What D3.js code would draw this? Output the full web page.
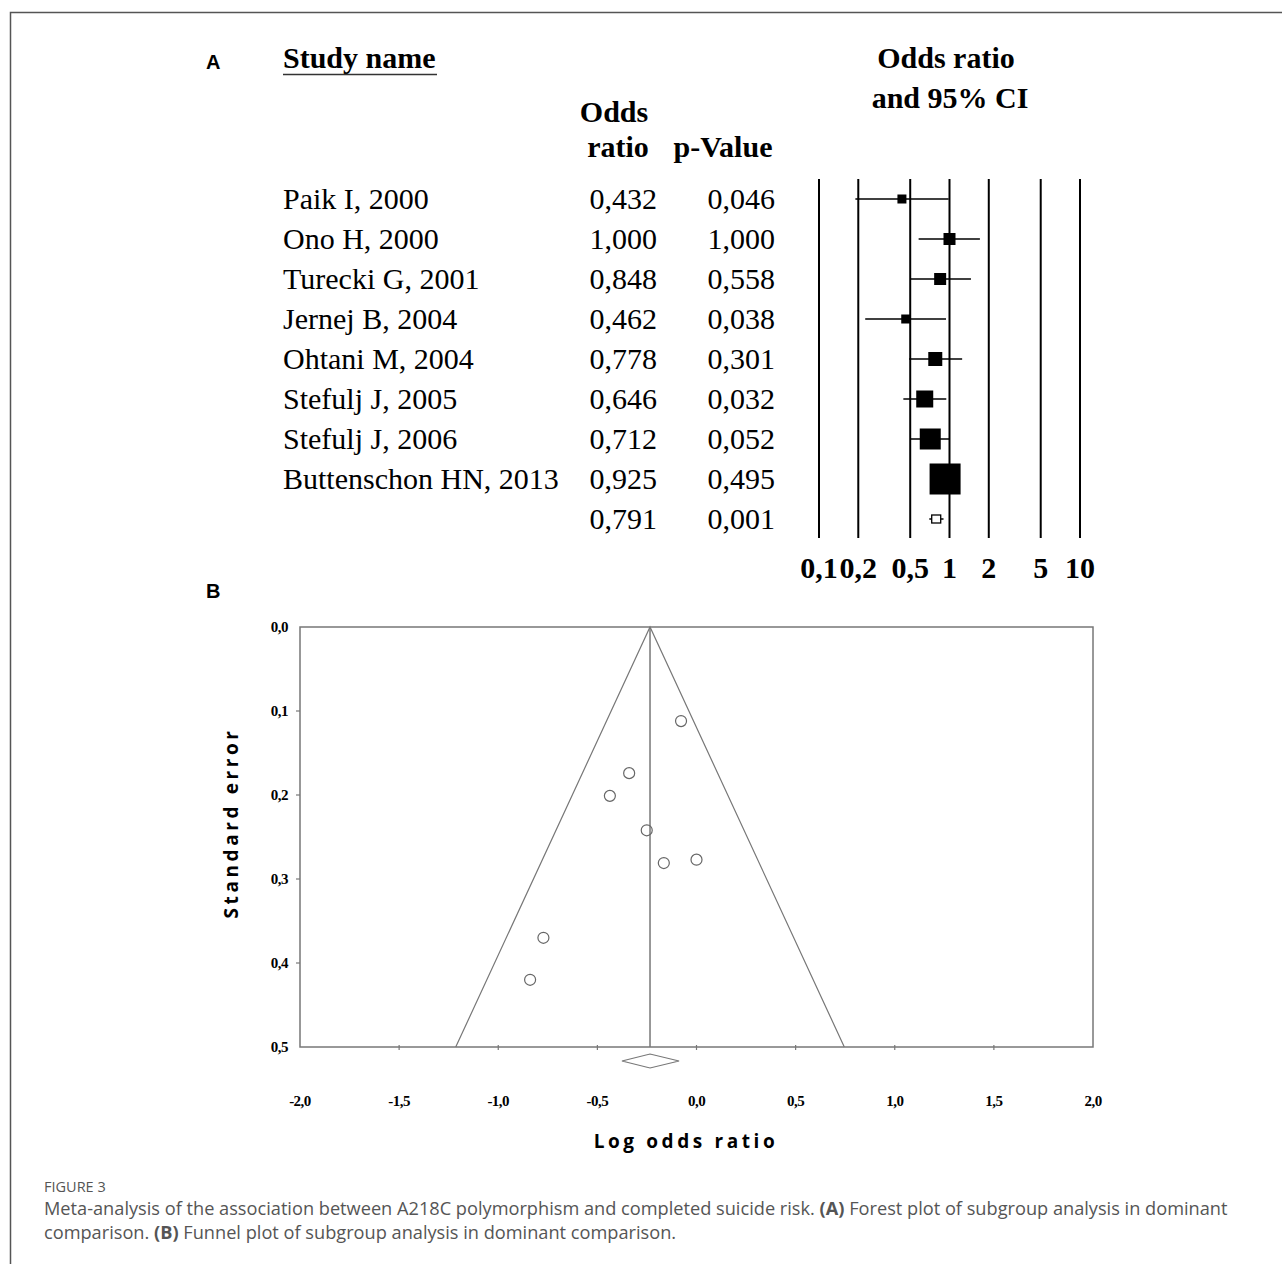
<!DOCTYPE html>
<html><head><meta charset="utf-8">
<script src="https://cdn.jsdelivr.net/npm/d3@7"></script>
<style>body{margin:0;background:#fff}svg{display:block}</style>
</head><body>
<script>
// ---- Forest plot data ----
const studies = ["Paik I, 2000","Ono H, 2000","Turecki G, 2001","Jernej B, 2004","Ohtani M, 2004","Stefulj J, 2005","Stefulj J, 2006","Buttenschon HN, 2013"];
const oddsRatio = [0.432,1.000,0.848,0.462,0.778,0.646,0.712,0.925];
const orLabels = ["0,432","1,000","0,848","0,462","0,778","0,646","0,712","0,925"];
const pLabels = ["0,046","1,000","0,558","0,038","0,301","0,032","0,052","0,495"];
const ciLower = [0.19,0.58,0.50,0.226,0.49,0.443,0.50,0.75];
const ciUpper = [0.985,1.71,1.46,0.94,1.25,0.945,1.0,1.14];
const weights = [9,12,12,9,14,17,21,31];
const summaryOR = 0.791, summaryLower = 0.70, summaryUpper = 0.90;
const summaryORLabel = "0,791", summaryPLabel = "0,001";
const forestTicks = [0.1,0.2,0.5,1,2,5,10];
const forestTickLabels = ["0,1","0,2","0,5","1","2","5","10"];

// ---- Funnel plot data ----
const funnelSE = [0.420,0.277,0.281,0.370,0.242,0.201,0.174,0.112];
const funnelCenter = Math.log(summaryOR);
const diamondLow = -0.376, diamondHigh = -0.088;
const funnelXTicks = [-2,-1.5,-1,-0.5,0,0.5,1,1.5,2];
const funnelXLabels = ["-2,0","-1,5","-1,0","-0,5","0,0","0,5","1,0","1,5","2,0"];
const funnelYTicks = [0,0.1,0.2,0.3,0.4,0.5];
const funnelYLabels = ["0,0","0,1","0,2","0,3","0,4","0,5"];

const W=1282,H=1264;
const svg=d3.select("body").append("svg").attr("width",W).attr("height",H);

// frame
svg.append("path").attr("d","M10.5,1264 V12.5 H1282").attr("fill","none").attr("stroke","#555").attr("stroke-width",1.5);

const serif="'Liberation Serif','Times New Roman',serif";
const sans="'Liberation Sans',Arial,sans-serif";

// Panel labels
svg.append("text").attr("x",206).attr("y",69).text("A").attr("font-family",sans).attr("font-weight","bold").attr("font-size",20);
svg.append("text").attr("x",206).attr("y",598).text("B").attr("font-family",sans).attr("font-weight","bold").attr("font-size",20);

// ---- Forest ----
const xF=d3.scaleLog().domain([0.1,10]).range([819,1080]);
const rows=studies.concat(["summary"]);
const yF=d3.scalePoint().domain(rows).range([199,519]);
const gF=svg.append("g");
const fs=30;
// headers
gF.append("text").attr("x",283).attr("y",68).text("Study name").attr("font-family",serif).attr("font-weight","bold").attr("font-size",fs);
gF.append("line").attr("x1",283).attr("x2",437).attr("y1",74.5).attr("y2",74.5).attr("stroke","#333").attr("stroke-width",1.5);
gF.append("text").attr("x",614).attr("y",122).attr("text-anchor","middle").text("Odds").attr("font-family",serif).attr("font-weight","bold").attr("font-size",fs);
gF.append("text").attr("x",618).attr("y",157).attr("text-anchor","middle").text("ratio").attr("font-family",serif).attr("font-weight","bold").attr("font-size",fs);
gF.append("text").attr("x",723).attr("y",157).attr("text-anchor","middle").text("p-Value").attr("font-family",serif).attr("font-weight","bold").attr("font-size",fs);
gF.append("text").attr("x",946).attr("y",68).attr("text-anchor","middle").text("Odds ratio").attr("font-family",serif).attr("font-weight","bold").attr("font-size",fs);
gF.append("text").attr("x",950).attr("y",108).attr("text-anchor","middle").text("and 95% CI").attr("font-family",serif).attr("font-weight","bold").attr("font-size",fs);

// rows text
studies.forEach((s,i)=>{
  const y=yF(s)+10;
  gF.append("text").attr("x",283).attr("y",y).text(s).attr("font-family",serif).attr("font-size",fs);
  gF.append("text").attr("x",657).attr("y",y).attr("text-anchor","end").text(orLabels[i]).attr("font-family",serif).attr("font-size",fs);
  gF.append("text").attr("x",775).attr("y",y).attr("text-anchor","end").text(pLabels[i]).attr("font-family",serif).attr("font-size",fs);
});
gF.append("text").attr("x",657).attr("y",yF("summary")+10).attr("text-anchor","end").text(summaryORLabel).attr("font-family",serif).attr("font-size",fs);
gF.append("text").attr("x",775).attr("y",yF("summary")+10).attr("text-anchor","end").text(summaryPLabel).attr("font-family",serif).attr("font-size",fs);

// vertical grid lines
gF.selectAll("line.v").data(forestTicks).enter().append("line")
  .attr("x1",d=>xF(d)).attr("x2",d=>xF(d)).attr("y1",179).attr("y2",538)
  .attr("stroke","#000").attr("stroke-width",2);
gF.selectAll("text.t").data(forestTicks).enter().append("text")
  .attr("x",d=>xF(d)).attr("y",578).attr("text-anchor","middle")
  .text((d,i)=>forestTickLabels[i]).attr("font-family",serif).attr("font-weight","bold").attr("font-size",fs);

// CIs and boxes
studies.forEach((s,i)=>{
  const y=yF(s);
  gF.append("line").attr("x1",xF(ciLower[i])).attr("x2",xF(ciUpper[i])).attr("y1",y).attr("y2",y).attr("stroke","#000").attr("stroke-width",1.5);
  const w=weights[i];
  gF.append("rect").attr("x",xF(oddsRatio[i])-w/2).attr("y",y-w/2).attr("width",w).attr("height",w).attr("fill","#000");
});
{
  const y=yF("summary");
  gF.append("line").attr("x1",xF(summaryLower)).attr("x2",xF(summaryUpper)).attr("y1",y).attr("y2",y).attr("stroke","#000").attr("stroke-width",1.5);
  gF.append("rect").attr("x",xF(summaryOR)-4.5).attr("y",y-4).attr("width",9).attr("height",8).attr("fill","#fff").attr("stroke","#000").attr("stroke-width",1.3);
}

// ---- Funnel ----
const xB=d3.scaleLinear().domain([-2,2]).range([300,1093]);
const yB=d3.scaleLinear().domain([0,0.5]).range([627,1047]);
const gB=svg.append("g");
const gray="#777";
gB.append("rect").attr("x",xB(-2)).attr("y",yB(0)).attr("width",xB(2)-xB(-2)).attr("height",yB(0.5)-yB(0))
  .attr("fill","none").attr("stroke",gray).attr("stroke-width",1.5);
// funnel
gB.append("path").attr("d",`M${xB(funnelCenter-1.96*0.5)},${yB(0.5)} L${xB(funnelCenter)},${yB(0)} L${xB(funnelCenter+1.96*0.5)},${yB(0.5)}`)
  .attr("fill","none").attr("stroke",gray).attr("stroke-width",1.2);
gB.append("line").attr("x1",xB(funnelCenter)).attr("x2",xB(funnelCenter)).attr("y1",yB(0)).attr("y2",yB(0.5)).attr("stroke",gray).attr("stroke-width",1.5);
// ticks
gB.selectAll("line.xt").data(funnelXTicks.slice(1,-1)).enter().append("line")
  .attr("x1",d=>xB(d)).attr("x2",d=>xB(d)).attr("y1",yB(0.5)-2).attr("y2",yB(0.5)+3).attr("stroke",gray).attr("stroke-width",1.2);
gB.selectAll("line.yt").data(funnelYTicks.slice(1,-1)).enter().append("line")
  .attr("x1",xB(-2)-4).attr("x2",xB(-2)).attr("y1",d=>yB(d)).attr("y2",d=>yB(d)).attr("stroke",gray).attr("stroke-width",1.2);
// labels
gB.selectAll("text.xl").data(funnelXTicks).enter().append("text")
  .attr("x",d=>xB(d)).attr("y",1106).attr("text-anchor","middle")
  .text((d,i)=>funnelXLabels[i]).attr("font-family",serif).attr("font-weight","bold").attr("font-size",15).attr("letter-spacing",-0.5);
gB.selectAll("text.yl").data(funnelYTicks).enter().append("text")
  .attr("x",288).attr("y",d=>yB(d)+5).attr("text-anchor","end")
  .text((d,i)=>funnelYLabels[i]).attr("font-family",serif).attr("font-weight","bold").attr("font-size",15).attr("letter-spacing",-0.5);
// points
gB.selectAll("circle").data(oddsRatio).enter().append("circle")
  .attr("cx",d=>xB(Math.log(d))).attr("cy",(d,i)=>yB(funnelSE[i])).attr("r",5.5)
  .attr("fill","none").attr("stroke","#666").attr("stroke-width",1.2);
// diamond
const dy=1061;
gB.append("path").attr("d",`M${xB(diamondLow)},${dy} L${xB(funnelCenter)},${dy-7} L${xB(diamondHigh)},${dy} L${xB(funnelCenter)},${dy+7} Z`)
  .attr("fill","none").attr("stroke",gray).attr("stroke-width",1.2);
// axis titles
const cal="'Open Sans','DejaVu Sans',sans-serif";
gB.append("text").attr("x",686).attr("y",1148).attr("text-anchor","middle").text("Log odds ratio")
  .attr("font-family",cal).attr("font-weight","bold").attr("font-size",19).attr("letter-spacing",3.6);
gB.append("text").attr("transform","translate(238,823) rotate(-90)").attr("text-anchor","middle").text("Standard error")
  .attr("font-family",cal).attr("font-weight","bold").attr("font-size",19).attr("letter-spacing",3.6);

// ---- Caption ----
const capFont="'Open Sans',sans-serif";
svg.append("text").attr("x",44).attr("y",1192).text("FIGURE 3").attr("font-family",capFont).attr("font-size",14.5).attr("fill","#555");
const c1=svg.append("text").attr("x",44).attr("y",1215).attr("font-family",capFont).attr("font-size",18.2).attr("fill","#555");
c1.append("tspan").text("Meta-analysis of the association between A218C polymorphism and completed suicide risk. ");
c1.append("tspan").attr("font-weight","bold").text("(A)");
c1.append("tspan").text(" Forest plot of subgroup analysis in dominant");
const c2=svg.append("text").attr("x",44).attr("y",1239).attr("font-family",capFont).attr("font-size",18.2).attr("fill","#555");
c2.append("tspan").text("comparison. ");
c2.append("tspan").attr("font-weight","bold").text("(B)");
c2.append("tspan").text(" Funnel plot of subgroup analysis in dominant comparison.");
</script>
</body></html>
